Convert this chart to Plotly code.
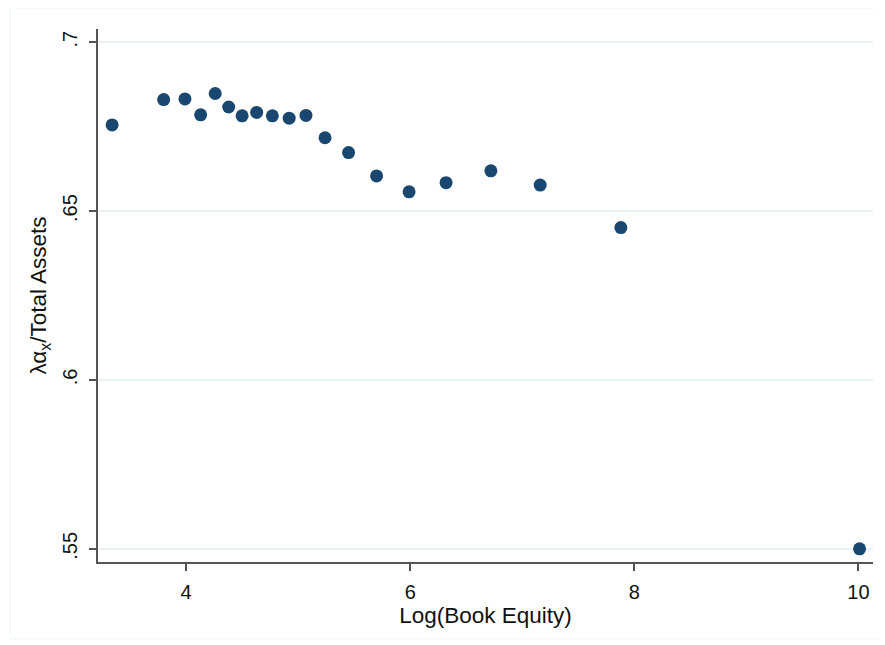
import plotly.graph_objects as go

log_book_equity = [3.34, 3.80, 3.99, 4.13, 4.26, 4.38, 4.50, 4.63, 4.77, 4.92, 5.07,
                   5.24, 5.45, 5.70, 5.99, 6.32, 6.72, 7.16, 7.88, 10.01]
lambda_alpha_ta = [0.6755, 0.6830, 0.6832, 0.6785, 0.6848, 0.6808, 0.6782, 0.6792,
                   0.6782, 0.6775, 0.6783, 0.6717, 0.6673, 0.6604, 0.6557, 0.6584,
                   0.6619, 0.6577, 0.6451, 0.5500]

x_tickvals = [4, 6, 8, 10]
y_tickvals = [0.55, 0.6, 0.65, 0.7]
y_ticktext = [".55", ".6", ".65", ".7"]

fig = go.Figure()
fig.add_trace(go.Scatter(
    x=log_book_equity, y=lambda_alpha_ta, mode="markers",
    marker=dict(color="#1a476f", size=13, line=dict(width=0)),
    showlegend=False,
))

# page body has an 8px default margin, so the figure is sized 8px smaller
W, H = 877, 637
L, T, R, B = 90, 21, 12, 83
pw, ph = W - L - R, H - T - B

font_family = "Liberation Sans, Arial, sans-serif"
fig.update_layout(
    width=W, height=H,
    margin=dict(l=L, r=R, t=T, b=B),
    paper_bgcolor="white", plot_bgcolor="white",
    font=dict(family=font_family, size=20, color="#111"),
    xaxis=dict(
        range=[3.214, 10.13], tickvals=x_tickvals, automargin=False,
        showgrid=False, zeroline=False,
        showline=True, linecolor="#555", linewidth=1.5,
        ticks="outside", ticklen=7, tickcolor="#555", tickwidth=1.5,
        tickfont=dict(size=20), ticklabelstandoff=4,
        title=dict(text="Log(Book Equity)", font=dict(size=22.5), standoff=2),
    ),
    yaxis=dict(
        range=[0.5461, 0.7039], tickvals=y_tickvals, ticktext=y_ticktext,
        tickangle=-90, automargin=False,
        showgrid=True, gridcolor="#eaf2f3", gridwidth=1.5, zeroline=False,
        showline=True, linecolor="#555", linewidth=1.5,
        ticks="outside", ticklen=7, tickcolor="#555", tickwidth=1.5,
        tickfont=dict(size=20), ticklabelstandoff=4,
        title=dict(text="λα<sub>x</sub>/Total Assets", font=dict(size=22.5), standoff=6),
    ),
    shapes=[dict(type="rect", xref="paper", yref="paper",
                 x0=(2 - L) / pw, x1=(W - 1 - L) / pw,
                 y0=-(B - 6) / ph, y1=1 + (T - 0) / ph,
                 line=dict(color="#f2f4f4", width=1), layer="below")],
)

fig.write_html("out.html")
